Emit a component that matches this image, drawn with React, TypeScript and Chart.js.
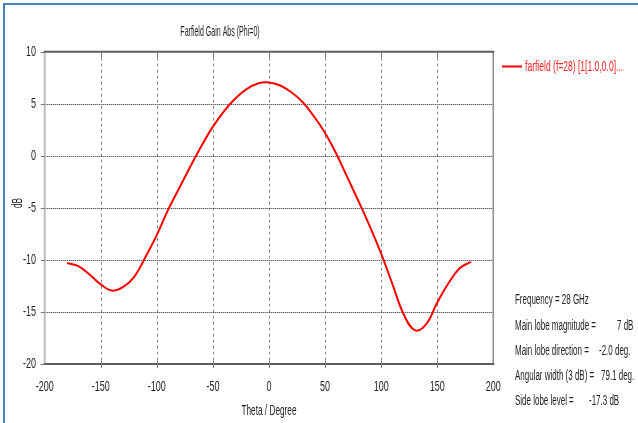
import { useEffect, useRef } from "react";
import { Chart, registerables } from "chart.js";

Chart.register(...registerables);

const thetaDeg = [-180, -170, -160, -150, -140, -130, -120, -110, -100, -90, -80, -70, -60, -50, -40, -30, -20, -10, 0, 10, 20, 30, 40, 50, 60, 70, 80, 90, 100, 110, 120, 130, 140, 150, 160, 170, 180];
const gainDb = [-10.3, -10.6, -11.4, -12.35, -12.95, -12.6, -11.6, -9.7, -7.6, -5.2, -3.1, -1.0, 1.0, 2.8, 4.3, 5.5, 6.4, 6.95, 7.05, 6.75, 6.1, 5.15, 3.8, 2.2, 0.2, -2.1, -4.4, -6.8, -9.4, -12.3, -15.2, -16.75, -16.2, -14.1, -12.25, -10.8, -10.2];
const xTicks = [-200, -150, -100, -50, 0, 50, 100, 150, 200];
const yTicks = [10, 5, 0, -5, -10, -15, -20];

const chartTitle = "Farfield Gain Abs (Phi=0)";
const xTitle = "Theta / Degree";
const yTitle = "dB";
const legendLabel = "farfield (f=28) [1[1.0,0.0]...";
const infoLabels = ["Frequency = 28 GHz", "Main lobe magnitude =", "Main lobe direction =", "Angular width (3 dB) =", "Side lobe level ="];
const infoValues = ["", "7 dB", "-2.0 deg.", "79.1 deg.", "-17.3 dB"];

const FONT = '"Liberation Sans", Arial, sans-serif';

function txt(ctx: CanvasRenderingContext2D, s: string, x: number, y: number, size: number, sx: number, align: CanvasTextAlign, color: string, rot = 0) {
  ctx.save();
  ctx.translate(x, y);
  if (rot) ctx.rotate(rot);
  ctx.scale(sx, 1);
  ctx.font = `${size}px ${FONT}`;
  ctx.textAlign = align;
  ctx.textBaseline = "middle";
  ctx.fillStyle = color;
  ctx.fillText(s, 0, 0);
  ctx.restore();
}

const framePlugin = {
  id: "cstFrame",
  beforeDatasetsDraw(chart: any) {
    const ctx: CanvasRenderingContext2D = chart.ctx;
    const xs = chart.scales.x;
    const ys = chart.scales.y;
    const { left, right, top, bottom } = chart.chartArea;
    ctx.save();
    ctx.strokeStyle = "#8a8a8a";
    ctx.lineWidth = 1;
    ctx.setLineDash([3, 3]);
    xTicks.slice(1, -1).forEach((v) => {
      const px = Math.round(xs.getPixelForValue(v)) + 0.5;
      ctx.beginPath();
      ctx.moveTo(px, top);
      ctx.lineTo(px, bottom);
      ctx.stroke();
    });
    ctx.strokeStyle = "#222";
    ctx.setLineDash([1, 1]);
    yTicks.slice(1, -1).forEach((v) => {
      const py = Math.round(ys.getPixelForValue(v)) + 0.5;
      ctx.beginPath();
      ctx.moveTo(left, py);
      ctx.lineTo(right, py);
      ctx.stroke();
    });
    ctx.restore();
  },
  afterDatasetsDraw(chart: any) {
    const ctx: CanvasRenderingContext2D = chart.ctx;
    const xs = chart.scales.x;
    const ys = chart.scales.y;
    const { left, right, top, bottom } = chart.chartArea;
    ctx.save();
    ctx.setLineDash([]);
    ctx.strokeStyle = "#bdbdbd";
    ctx.lineWidth = 2;
    ctx.beginPath();
    ctx.moveTo(left, top);
    ctx.lineTo(left, bottom);
    ctx.stroke();
    ctx.strokeStyle = "#8c8c8c";
    ctx.lineWidth = 1.5;
    ctx.beginPath();
    ctx.moveTo(right, top);
    ctx.lineTo(right, bottom);
    ctx.stroke();
    ctx.strokeStyle = "#5f5f5f";
    ctx.lineWidth = 2;
    ctx.beginPath();
    ctx.moveTo(left - 1, top);
    ctx.lineTo(right + 1, top);
    ctx.moveTo(left - 1, bottom);
    ctx.lineTo(right + 1, bottom);
    ctx.stroke();
    ctx.strokeStyle = "#777";
    ctx.lineWidth = 1;
    xTicks.slice(1, -1).forEach((v) => {
      const px = Math.round(xs.getPixelForValue(v)) + 0.5;
      ctx.beginPath();
      ctx.moveTo(px, top);
      ctx.lineTo(px, top + 6);
      ctx.moveTo(px, bottom - 3);
      ctx.lineTo(px, bottom + 4);
      ctx.stroke();
    });
    yTicks.forEach((v) => {
      const py = Math.round(ys.getPixelForValue(v)) + 0.5;
      ctx.beginPath();
      ctx.moveTo(left - 4, py);
      ctx.lineTo(left, py);
      ctx.stroke();
    });
    xTicks.forEach((v) => {
      txt(ctx, String(v), xs.getPixelForValue(v), 387, 15, 0.6, "center", "#222");
    });
    yTicks.forEach((v) => {
      txt(ctx, String(v), 36, ys.getPixelForValue(v), 15, 0.6, "right", "#222");
    });
    txt(ctx, chartTitle, 220, 32, 15, 0.47, "center", "#222");
    txt(ctx, xTitle, 269, 411, 15, 0.55, "center", "#222");
    txt(ctx, yTitle, 18, 203, 15, 0.55, "center", "#222", -Math.PI / 2);
    ctx.strokeStyle = "#ff0000";
    ctx.lineWidth = 2;
    ctx.beginPath();
    ctx.moveTo(502, 66.5);
    ctx.lineTo(522, 66.5);
    ctx.stroke();
    txt(ctx, legendLabel, 525, 67, 15, 0.57, "left", "#ff2020");
    const infoY = [300.5, 326, 351, 376.5, 401.5];
    const valueX = [0, 617, 599, 601, 589];
    infoLabels.forEach((s, i) => {
      txt(ctx, s, 515, infoY[i], 14, 0.57, "left", "#222");
      if (infoValues[i]) txt(ctx, infoValues[i], valueX[i], infoY[i], 14, 0.57, "left", "#222");
    });
    ctx.strokeStyle = "#4a7ebb";
    ctx.lineWidth = 2;
    ctx.beginPath();
    ctx.moveTo(4, 423);
    ctx.lineTo(4, 4);
    ctx.lineTo(638, 4);
    ctx.stroke();
    ctx.restore();
  },
};

export default function App() {
  const ref = useRef<HTMLCanvasElement | null>(null);
  useEffect(() => {
    if (!ref.current) return;
    const chart = new Chart(ref.current, {
      type: "line",
      data: {
        datasets: [
          {
            label: legendLabel,
            data: thetaDeg.map((t, i) => ({ x: t, y: gainDb[i] })),
            borderColor: "#ff0000",
            borderWidth: 2,
            pointRadius: 0,
            tension: 0.4,
            fill: false,
          },
        ],
      },
      options: {
        animation: false,
        responsive: false,
        maintainAspectRatio: false,
        layout: { padding: { left: 0, right: 144.7, top: 51.7, bottom: 0 } },
        plugins: { legend: { display: false }, title: { display: false }, tooltip: { enabled: false } },
        scales: {
          x: {
            type: "linear",
            min: -200,
            max: 200,
            ticks: { display: false, stepSize: 50 },
            grid: { display: false },
            border: { display: false },
            afterFit: (s: any) => {
              s.height = 59;
            },
          },
          y: {
            type: "linear",
            min: -20,
            max: 10,
            ticks: { display: false, stepSize: 5 },
            grid: { display: false },
            border: { display: false },
            afterFit: (s: any) => {
              s.width = 44.7;
            },
          },
        },
      },
      plugins: [framePlugin],
    } as any);
    return () => chart.destroy();
  }, []);
  return (
    <div style={{ position: "fixed", left: 0, top: 0, width: 638, height: 423, background: "#fff" }}>
      <canvas ref={ref} width={638} height={423} style={{ display: "block", width: 638, height: 423 }} />
    </div>
  );
}
